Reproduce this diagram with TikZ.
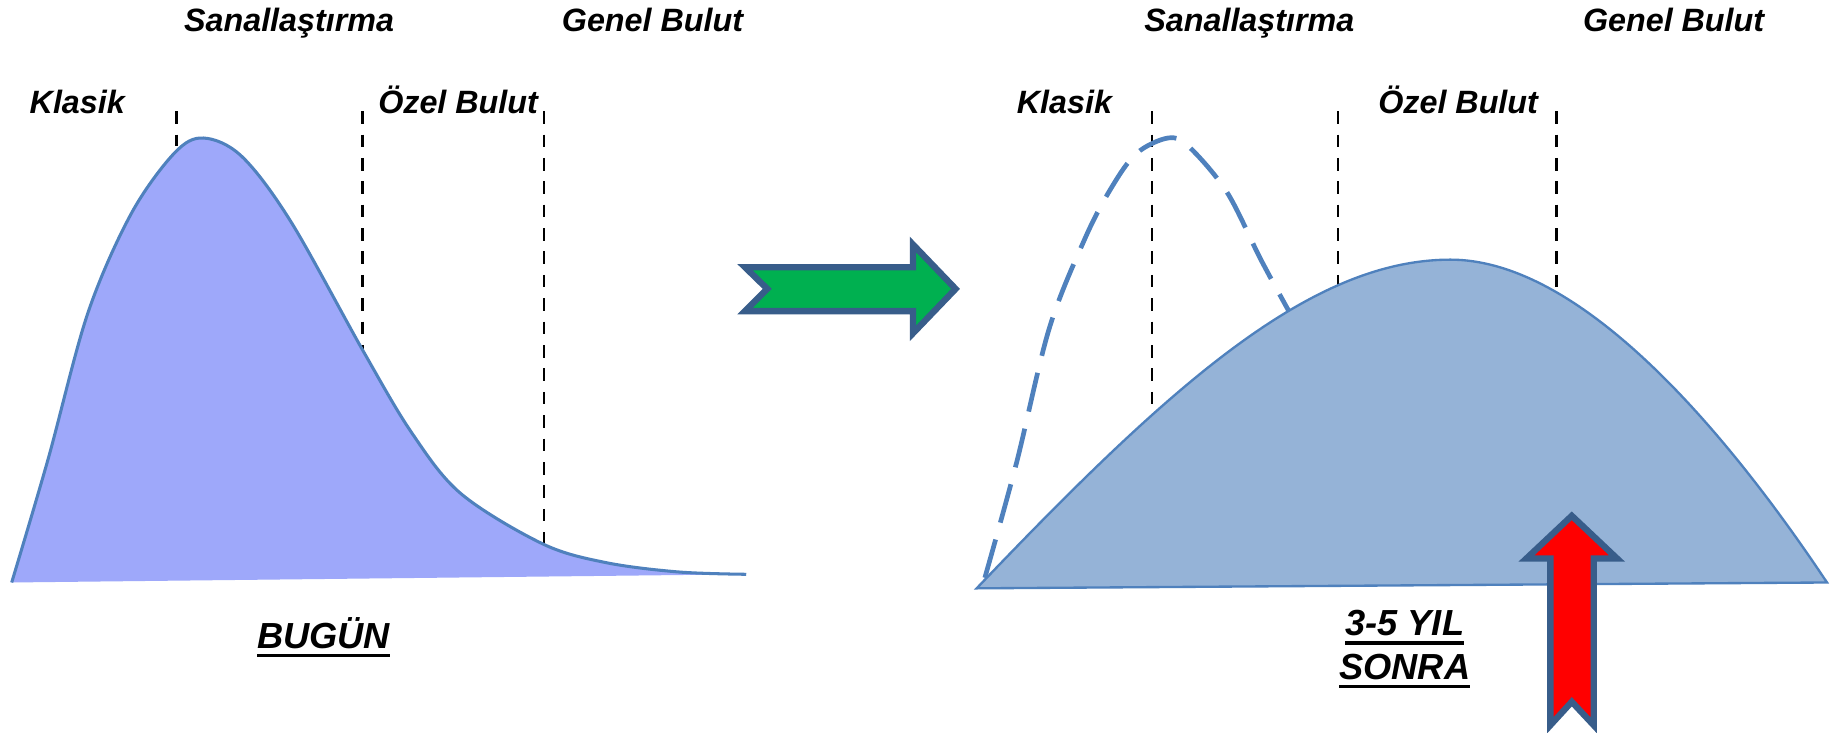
\documentclass[tikz,border=0pt]{standalone}
\usepackage{fontspec}
\setmainfont{Liberation Sans}
\definecolor{leftfill}{RGB}{158,168,250}
\definecolor{rightfill}{RGB}{149,179,215}
\definecolor{curveblue}{RGB}{79,129,189}
\definecolor{arrowedge}{RGB}{56,93,138}
\definecolor{arrowgreen}{RGB}{0,176,80}
\newcommand\myul[1]{\setbox0=\hbox{#1}\rlap{\rule[-3.7pt]{\wd0}{1.4pt}}\box0}
\tikzset{
  lbl/.style={anchor=base west, inner sep=0pt, font=\fontsize{13.8}{16}\selectfont\bfseries\itshape},
  biglbl/.style={inner sep=0pt, align=center, font=\fontsize{15.5}{18.5}\selectfont\bfseries\itshape},
  divider/.style={draw=black, line width=1.15pt, dash pattern=on 5.4pt off 4.6pt},
  oldcurve/.style={draw=curveblue, line width=2pt, dash pattern=on 17pt off 7.5pt},
  bigarrow/.style={draw=arrowedge, line width=2.7pt, miter limit=10},
}
\begin{document}
\begin{tikzpicture}[x=0.5pt,y=-0.5pt]
\useasboundingbox[fill=white] (0,0) rectangle (1568,626);

% ---------- left panel ----------
\node[lbl] (lsan) at (157,27) {Sanallaştırma};
\node[lbl] (lgen) at (480,27) {Genel Bulut};
\node[lbl] (lkla) at (25,97) {Klasik};
\node[lbl] (lozel) at (323,97) {Özel Bulut};

\coordinate (ld1t) at (151,95);  \coordinate (ld1b) at (151,125);
\coordinate (ld2t) at (310,95);  \coordinate (ld2b) at (310,301);
\coordinate (ld3t) at (465,95);  \coordinate (ld3b) at (465,465);
\draw[divider] (ld1t) -- (ld1b);
\draw[divider] (ld2t) -- (ld2b);
\draw[divider] (ld3t) -- (ld3b);

\fill[leftfill] plot[smooth, tension=0.55] coordinates {(10,498) (41,393) (75,268) (112,183) (149,131) (174,118) (207,134) (249,190) (311,301) (352,370) (394,422) (464,465) (518,481) (580,489) (638,491)} -- cycle;
\draw[curveblue, line width=1.3pt] plot[smooth, tension=0.55] coordinates {(10,498) (41,393) (75,268) (112,183) (149,131) (174,118) (207,134) (249,190) (311,301) (352,370) (394,422) (464,465) (518,481) (580,489) (638,491)};

\node[biglbl, anchor=base west] (bugun) at (219.5,554.3) {\myul{BUGÜN}};

% ---------- green arrow ----------
\draw[bigarrow, fill=arrowgreen] (637,228.5) -- (780.5,228.5) -- (780.5,209) -- (817,247) -- (780.5,285) -- (780.5,266) -- (637,266) -- (656,247) -- cycle;

% ---------- right panel ----------
\node[lbl] (rkla) at (869,97) {Klasik};
\node[lbl] (rsan) at (978,27) {Sanallaştırma};
\node[lbl] (rozel) at (1178,97) {Özel Bulut};
\node[lbl] (rgen) at (1353,27) {Genel Bulut};

\coordinate (rd1t) at (985,95);  \coordinate (rd1b) at (985,360);
\coordinate (rd2t) at (1144,95); \coordinate (rd2b) at (1144,250);
\coordinate (rd3t) at (1331,95); \coordinate (rd3b) at (1331,250);
\draw[divider] (rd1t) -- (rd1b);
\draw[divider] (rd2t) -- (rd2b);
\draw[divider] (rd3t) -- (rd3b);

\draw[oldcurve] plot[smooth, tension=0.55] coordinates {(842,494) (869,396) (897,281) (927.7,203.7) (950.5,160) (971.8,131) (998.6,118) (1016,125) (1048.8,164) (1078,222) (1103,268)};

\filldraw[fill=rightfill, draw=curveblue, line width=1pt] (835,503) .. controls (1000,330) and (1120,222) .. (1240,222) .. controls (1360,222) and (1490,390) .. (1562,498) -- cycle;

\node[biglbl] (sonra) at (1201,555) {\myul{3-5 YIL}\\\myul{SONRA}};

% ---------- red arrow ----------
\draw[bigarrow, fill=red] (1343.8,441) -- (1382.5,477.5) -- (1362.5,477.5) -- (1362.5,620) -- (1343.8,600) -- (1325.5,620) -- (1325.5,477.5) -- (1305,477.5) -- cycle;
\end{tikzpicture}
\end{document}
